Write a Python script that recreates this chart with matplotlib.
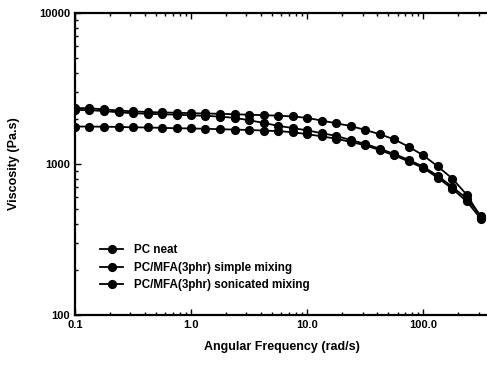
import numpy as np
import matplotlib
matplotlib.use("Agg")
import matplotlib.pyplot as plt
from matplotlib.ticker import FixedLocator, LogLocator, NullFormatter

# angular frequency, 8 points per decade from 0.1 to ~316 rad/s
freq = [0.1, 0.133, 0.178, 0.237, 0.316, 0.422, 0.562, 0.750, 1.0, 1.33,
        1.78, 2.37, 3.16, 4.22, 5.62, 7.50, 10.0, 13.3, 17.8, 23.7,
        31.6, 42.2, 56.2, 75.0, 100.0, 133.0, 178.0, 237.0, 316.0]

visc_neat = [1770, 1770, 1765, 1760, 1750, 1745, 1735, 1725, 1720, 1710,
             1700, 1690, 1680, 1665, 1650, 1625, 1575, 1525, 1470, 1400,
             1330, 1235, 1140, 1040, 940, 812, 685, 565, 430]
visc_simple = [2350, 2340, 2300, 2260, 2230, 2210, 2195, 2185, 2170, 2160,
               2150, 2135, 2120, 2105, 2090, 2065, 2020, 1940, 1860, 1785,
               1680, 1575, 1455, 1300, 1140, 965, 800, 625, 440]
visc_sonic = [2280, 2275, 2240, 2200, 2170, 2150, 2135, 2120, 2100, 2085,
              2060, 2020, 1950, 1870, 1790, 1730, 1670, 1600, 1535, 1440,
              1360, 1260, 1165, 1065, 960, 835, 705, 590, 450]

labels = ["PC neat", "PC/MFA(3phr) simple mixing", "PC/MFA(3phr) sonicated mixing"]
xticks = [0.1, 1.0, 10.0, 100.0]
xticklabels = ["0.1", "1.0", "10.0", "100.0"]
yticks = [100, 1000, 10000]
yticklabels = ["100", "1000", "10000"]

plt.rcParams["font.family"] = ["Liberation Sans", "DejaVu Sans"]
plt.rcParams["font.weight"] = "bold"

fig = plt.figure(figsize=(4.87, 3.66), dpi=100)
ax = fig.add_axes([75 / 487, 1 - 315 / 366, 414 / 487, 302 / 366])

for ys, lab in zip([visc_neat, visc_simple, visc_sonic], labels):
    ax.plot(freq, ys, color="black", lw=1.3, marker="o", ms=5.6, label=lab)

ax.set_xscale("log")
ax.set_yscale("log")
ax.set_xlim(0.1, 368)
ax.set_ylim(100, 10000)

ax.xaxis.set_major_locator(FixedLocator(xticks))
ax.set_xticklabels(xticklabels)
ax.yaxis.set_major_locator(FixedLocator(yticks))
ax.set_yticklabels(yticklabels)
ax.xaxis.set_minor_locator(LogLocator(base=10, subs=np.arange(2, 10)))
ax.yaxis.set_minor_locator(LogLocator(base=10, subs=np.arange(2, 10)))
ax.xaxis.set_minor_formatter(NullFormatter())
ax.yaxis.set_minor_formatter(NullFormatter())

ax.tick_params(which="both", direction="in", top=True, right=False,
               labelsize=8, width=1)
ax.tick_params(which="major", length=4)
ax.tick_params(which="minor", length=2.5)
for s in ["left", "bottom", "top"]:
    ax.spines[s].set_linewidth(1.6)
ax.spines["right"].set_visible(False)

ax.set_xlabel("Angular Frequency (rad/s)", fontsize=9, fontweight="bold", labelpad=8)
ax.set_ylabel("Viscosity (Pa.s)", fontsize=9, fontweight="bold", labelpad=14)

ax.legend(loc="lower left", bbox_to_anchor=(0.06, 0.08), frameon=False,
          borderaxespad=0, borderpad=0, handlelength=2.0, handletextpad=0.9,
          labelspacing=0.45, prop={"weight": "bold", "size": 8.4})

fig.savefig("out.png", dpi=100)
